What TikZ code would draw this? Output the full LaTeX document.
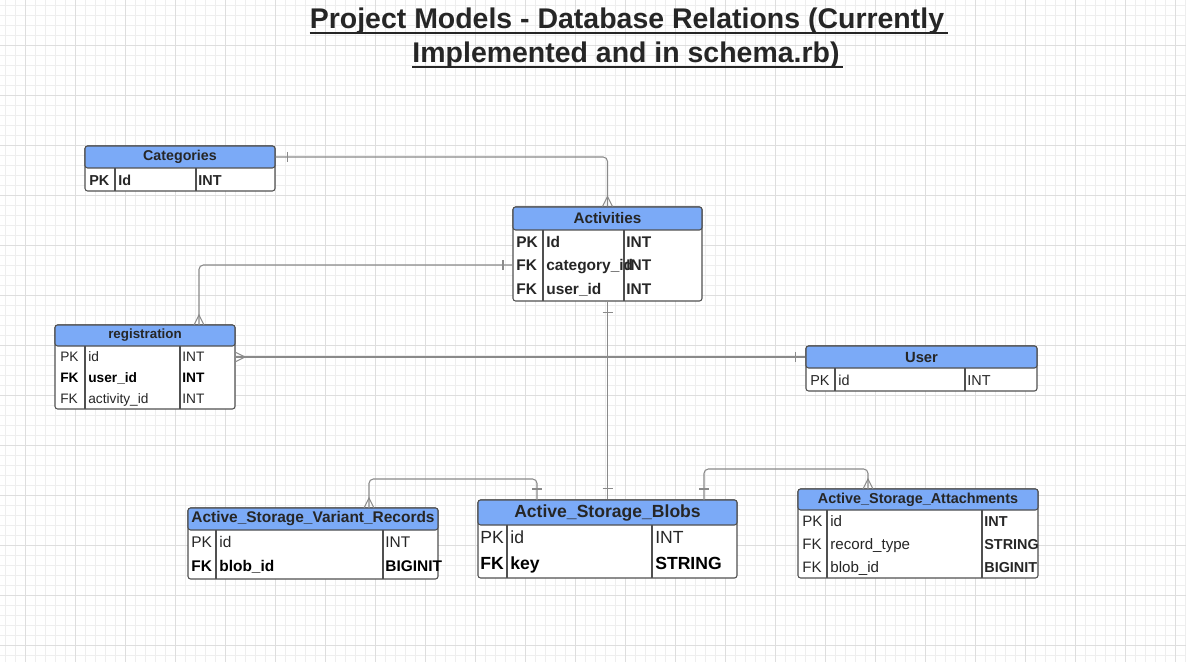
\documentclass[tikz,border=0pt]{standalone}
\usepackage{fontspec}
\setmainfont{Liberation Sans}
\usetikzlibrary{fit}

\definecolor{headblue}{HTML}{7BAAF7}
\definecolor{rim}{HTML}{505050}
\definecolor{linkgray}{HTML}{8A8A8A}
\definecolor{ink}{HTML}{262626}
\definecolor{minorgrid}{HTML}{EEEEEE}
\definecolor{majorgrid}{HTML}{DEDEDE}

\tikzset{
	x=0.02cm, y=-0.02cm,
	tablebox/.style={draw=rim, fill=white, line width=0.6pt, inner sep=0pt, rounded corners=1.5pt},
	tablehead/.style={draw=rim, fill=headblue, line width=0.6pt, inner sep=0pt, rounded corners=1.5pt},
	headtext/.style={anchor=center, inner sep=0pt, text=ink},
	colline/.style={draw=rim, line width=0.6pt},
	cell/.style={anchor=mid west, inner sep=0pt, text=ink},
	link/.style={draw=linkgray, line width=0.6pt, rounded corners=2.5pt},
	endmark/.style={draw=linkgray, line width=0.6pt},
}

\begin{document}
\begin{tikzpicture}
	% background and grid
	\fill[white] (0,0) rectangle (1186,662);
	\useasboundingbox (0,0) rectangle (1186,662);
	\foreach \x in {5,15,...,1185} \draw[minorgrid, line width=0.4pt] (\x,0) -- (\x,662);
	\foreach \y in {5,15,...,655} \draw[minorgrid, line width=0.4pt] (0,\y) -- (1186,\y);
	\foreach \x in {25,75,...,1175} \draw[majorgrid, line width=0.5pt] (\x,0) -- (\x,662);
	\foreach \y in {45,95,...,645} \draw[majorgrid, line width=0.5pt] (0,\y) -- (1186,\y);

	% title
	\node[anchor=base, inner sep=0pt, text=ink, font=\fontsize{16.2}{19}\selectfont\bfseries] (title1) at (627,29) {Project Models - Database Relations (Currently};
	\node[anchor=base, inner sep=0pt, text=ink, font=\fontsize{16.2}{19}\selectfont\bfseries] (title2) at (626,63) {Implemented and in schema.rb)};
	\draw[ink, line width=1.1pt] (title1.base west) ++(0,4) -- ++(638,0);
	\draw[ink, line width=1.1pt] (title2.base west) ++(0,4) -- ++(431,0);

	% Categories
	\node[tablebox, fit={(85,146)(275,191)}] (catbox) {};
	\node[tablehead, fit={(85,146)(275,168)}] (cat) {};
	\node[headtext, font=\fontsize{8.1}{9}\selectfont\bfseries] (catname) at (cat.center) {Categories};
	\draw[colline] (115,168) -- (115,191) (196,168) -- (196,191);
	\begin{scope}[every node/.style={cell, font=\fontsize{8.2}{9}\selectfont\bfseries}]
		\node (catpk) at (89,181) {PK};
		\node (catid) at (118,181) {Id};
		\node (catint) at (198,181) {INT};
	\end{scope}

	% Activities
	\node[tablebox, fit={(513,207)(702,301)}] (actbox) {};
	\node[tablehead, fit={(513,207)(702,230)}] (act) {};
	\node[headtext, font=\fontsize{8.7}{9}\selectfont\bfseries] (actname) at (act.center) {Activities};
	\draw[colline] (543,230) -- (543,301) (624,230) -- (624,301);
	\begin{scope}[every node/.style={cell, font=\fontsize{8.8}{10}\selectfont\bfseries}]
		\node (actpk) at (516,243) {PK};
		\node (actid) at (546,243) {Id};
		\node (actidt) at (626,243) {INT};
		\node (actfk1) at (516,266) {FK};
		\node (actcatid) at (546,266) {category\_id};
		\node (actcatt) at (626,266) {INT};
		\node (actfk2) at (516,290) {FK};
		\node (actuser) at (546,290) {user\_id};
		\node (actusert) at (626,290) {INT};
	\end{scope}

	% registration
	\node[tablebox, fit={(55,325)(235,409)}] (regbox) {};
	\node[tablehead, fit={(55,325)(235,346)}] (reg) {};
	\node[headtext, font=\fontsize{7.6}{9}\selectfont\bfseries] (regname) at (reg.center) {registration};
	\draw[colline] (85,346) -- (85,409) (180,346) -- (180,409);
	\begin{scope}[every node/.style={cell, font=\fontsize{7.8}{9}\selectfont}]
		\node (regpk) at (60,357) {PK};
		\node (regid) at (88,357) {id};
		\node (regidt) at (182,357) {INT};
		\node[font=\fontsize{7.8}{9}\selectfont\bfseries, text=black] (regfk1) at (60,378) {FK};
		\node[font=\fontsize{7.8}{9}\selectfont\bfseries, text=black] (regusr) at (88,378) {user\_id};
		\node[font=\fontsize{7.8}{9}\selectfont\bfseries, text=black] (regusrt) at (182,378) {INT};
		\node (regfk2) at (60,399) {FK};
		\node (regact) at (88,399) {activity\_id};
		\node (regactt) at (182,399) {INT};
	\end{scope}

	% User
	\node[tablebox, fit={(806,346)(1037,391)}] (userbox) {};
	\node[tablehead, fit={(806,346)(1037,368)}] (user) {};
	\node[headtext, font=\fontsize{8.4}{9}\selectfont\bfseries] (username) at (user.center) {User};
	\draw[colline] (835,368) -- (835,391) (965,368) -- (965,391);
	\begin{scope}[every node/.style={cell, font=\fontsize{8.2}{9}\selectfont}]
		\node (userpk) at (810,381) {PK};
		\node (userid) at (838,381) {id};
		\node (useridt) at (967,381) {INT};
	\end{scope}

	% Active_Storage_Variant_Records
	\node[tablebox, fit={(188,508)(438,579)}] (varbox) {};
	\node[tablehead, fit={(188,508)(438,530)}] (var) {};
	\node[headtext, font=\fontsize{8.8}{9}\selectfont\bfseries] (varname) at (var.center) {Active\_Storage\_Variant\_Records};
	\draw[colline] (216,530) -- (216,579) (383,530) -- (383,579);
	\begin{scope}[every node/.style={cell, font=\fontsize{8.8}{10}\selectfont}]
		\node (varpk) at (191,543) {PK};
		\node (varid) at (219,543) {id};
		\node (varidt) at (385,543) {INT};
		\node[font=\fontsize{8.8}{10}\selectfont\bfseries, text=black] (varfk) at (191,567) {FK};
		\node[font=\fontsize{8.8}{10}\selectfont\bfseries, text=black] (varblob) at (219,567) {blob\_id};
		\node[font=\fontsize{8.8}{10}\selectfont\bfseries, text=black] (varblobt) at (385,567) {BIGINIT};
	\end{scope}

	% Active_Storage_Blobs
	\node[tablebox, fit={(478,500)(737,578)}] (blobbox) {};
	\node[tablehead, fit={(478,500)(737,525)}] (blob) {};
	\node[headtext, font=\fontsize{10}{11}\selectfont\bfseries] (blobname) at (blob.center) {Active\_Storage\_Blobs};
	\draw[colline] (507,525) -- (507,578) (652,525) -- (652,578);
	\begin{scope}[every node/.style={cell, font=\fontsize{10}{11}\selectfont}]
		\node (blobpk) at (480,539) {PK};
		\node (blobid) at (510,539) {id};
		\node (blobidt) at (655,539) {INT};
		\node[font=\fontsize{10}{11}\selectfont\bfseries, text=black] (blobfk) at (480,565) {FK};
		\node[font=\fontsize{10}{11}\selectfont\bfseries, text=black] (blobkey) at (510,565) {key};
		\node[font=\fontsize{10}{11}\selectfont\bfseries, text=black] (blobkeyt) at (655,565) {STRING};
	\end{scope}

	% Active_Storage_Attachments
	\node[tablebox, fit={(798,489)(1038,578)}] (attbox) {};
	\node[tablehead, fit={(798,489)(1038,510)}] (att) {};
	\node[headtext, font=\fontsize{8.2}{9}\selectfont\bfseries] (attname) at (att.center) {Active\_Storage\_Attachments};
	\draw[colline] (827,510) -- (827,578) (982,510) -- (982,578);
	\begin{scope}[every node/.style={cell, font=\fontsize{8.6}{9}\selectfont}]
		\node (attpk) at (802,522) {PK};
		\node (attid) at (830,522) {id};
		\node[font=\fontsize{8.2}{9}\selectfont\bfseries] (attidt) at (984,522) {INT};
		\node (attfk1) at (802,545) {FK};
		\node (attrec) at (830,545) {record\_type};
		\node[font=\fontsize{8.2}{9}\selectfont\bfseries] (attrect) at (984,545) {STRING};
		\node (attfk2) at (802,568) {FK};
		\node (attblob) at (830,568) {blob\_id};
		\node[font=\fontsize{8.2}{9}\selectfont\bfseries] (attblobt) at (984,568) {BIGINIT};
	\end{scope}

	% ports on the table edges
	\coordinate (actcat) at (513,265);
	\coordinate (regtop) at (199,325);
	\coordinate (reguser) at (235,357);
	\coordinate (vartop) at (369,508);
	\coordinate (blobvar) at (537,500);
	\coordinate (blobatt) at (704,500);
	\coordinate (atttop) at (868,489);

	% relations
	\draw[link] (cat.east) -| (act.north);
	\draw[link] (actcat) -| (regtop);
	\draw[link] (reguser) -- (reguser -| user.west);
	\draw[link] (actbox.south) -- (blob.north);
	\draw[link] (vartop) -- ++(0,-29) -| (blobvar);
	\draw[link] (blobatt) -- ++(0,-31) -| (atttop);

	% one ends
	\draw[endmark] (cat.east) ++(12,-5) -- ++(0,10);
	\draw[endmark] (actcat) ++(-10,-5) -- ++(0,10);
	\draw[endmark] (actbox.south) ++(-5,11) -- ++(10,0);
	\draw[endmark] (reguser -| user.west) ++(-10,-5) -- ++(0,10);
	\draw[endmark] (blob.north) ++(-5,-11) -- ++(10,0);
	\draw[endmark] (blobvar) ++(-5,-11) -- ++(10,0);
	\draw[endmark] (blobatt) ++(-5,-11) -- ++(10,0);

	% many ends
	\draw[endmark] (act.north) ++(-5,0) -- ++(5,-10) -- ++(5,10);
	\draw[endmark] (regtop) ++(-5,0) -- ++(5,-10) -- ++(5,10);
	\draw[endmark] (reguser) ++(0,-5) -- ++(10,5) -- ++(-10,5);
	\draw[endmark] (vartop) ++(-5,0) -- ++(5,-10) -- ++(5,10);
	\draw[endmark] (atttop) ++(-5,0) -- ++(5,-10) -- ++(5,10);
\end{tikzpicture}
\end{document}
